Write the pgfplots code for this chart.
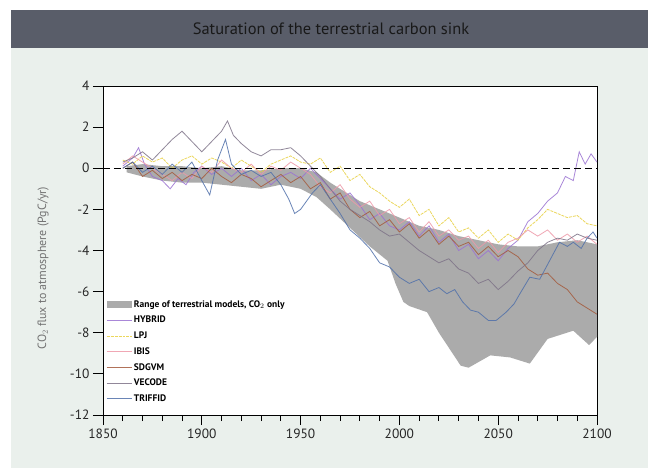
\documentclass[border=0pt]{standalone}
\usepackage{pgfplots}
\pgfplotsset{compat=1.18}
\usepackage{fontspec}
\setmainfont{PT Sans}
\definecolor{panel}{HTML}{EAF0EC}
\definecolor{titlebar}{HTML}{595D69}
\definecolor{bandgray}{HTML}{ABABAB}
\definecolor{hybrid}{HTML}{9B72D2}
\definecolor{lpj}{HTML}{E8D040}
\definecolor{ibis}{HTML}{EE98A8}
\definecolor{sdgvm}{HTML}{A45A3C}
\definecolor{vecode}{HTML}{7E7388}
\definecolor{triffid}{HTML}{5070AA}

\begin{document}
\begin{tikzpicture}
\useasboundingbox (0,0) rectangle (648bp,468bp);
\fill[white] (0,0) rectangle (648bp,468bp);
\fill[panel] (11bp,0) rectangle (648bp,420bp);
\fill[titlebar] (11bp,420bp) rectangle (648bp,458bp);
\node[text=black!90, font=\fontsize{16.5}{19}\selectfont] at (331bp,439bp) {Saturation of the terrestrial carbon sink};

\begin{axis}[
    at={(103bp,53bp)}, anchor=south west,
    width=494bp, height=329bp, scale only axis,
    xmin=1850, xmax=2100, ymin=-12, ymax=4,
    xtick={1850,1900,...,2100}, minor x tick num=4,
    ytick={-12,-10,...,4},
    tick align=outside, xtick pos=bottom, ytick pos=left,
    major tick length=10bp, minor tick length=6bp,
    tick style={black, line width=0.9pt},
    axis line style={black, line width=0.9pt},
    axis background/.style={fill=white},
    /pgf/number format/assume math mode=true,
    /pgf/number format/1000 sep={},
    ticklabel style={font=\fontsize{13.5}{16}\selectfont, text=black!85},
    ylabel={CO$_2$ flux to atmosphere (PgC/yr)},
    ylabel style={at={(axis description cs:-0.121,0.447)}, anchor=center,
        font=\fontsize{12}{14}\selectfont, text=black!55},
    legend style={at={(axis description cs:0.006,0.355)}, anchor=north west,
        draw=none, fill=none, font=\bfseries\fontsize{9.5}{11}\selectfont,
        row sep=3.5bp, inner sep=0pt},
    legend cell align=left,
    legend image code/.code={\draw[#1] (0bp,0bp) -- (25bp,0bp);},
    every axis plot/.append style={line width=0.8pt, opacity=0.85},
]

% range of terrestrial models (CO2 only): upper edge then lower edge reversed
\addplot[draw=none, fill=bandgray, opacity=1,
    legend image code/.code={\fill[bandgray] (0bp,-3.5bp) rectangle (25bp,3.5bp);}]
    coordinates {
    (1862,0.1) (1870,0.2) (1880,0.1) (1890,0.1) (1900,0.0) (1910,0.1) (1920,-0.1)
    (1930,-0.1) (1940,0.0) (1950,0.0) (1958,-0.2) (1965,-0.7) (1970,-1.0) (1980,-1.6)
    (1990,-2.0) (2000,-2.4) (2010,-2.8) (2020,-3.0) (2030,-3.3) (2040,-3.5)
    (2050,-3.7) (2060,-3.8) (2070,-3.8) (2080,-3.6) (2090,-3.5) (2100,-3.7)
    (2100,-8.2) (2096,-8.6) (2088,-7.9) (2075,-8.3) (2066,-9.5) (2056,-9.2)
    (2046,-9.1) (2035,-9.7) (2031,-9.6) (2020,-8.0) (2014,-7.0) (2005,-6.7)
    (2002,-6.5) (1998,-5.6) (1994,-4.5) (1985,-3.8) (1975,-2.9) (1965,-2.0)
    (1958,-1.4) (1950,-1.0) (1940,-0.8) (1930,-1.0) (1920,-0.9) (1910,-0.8)
    (1900,-0.7) (1890,-0.7) (1880,-0.6) (1870,-0.4) (1862,-0.2)
    } -- cycle;
\addlegendentry{Range of terrestrial models, CO$_2$ only}

% HYBRID
\addplot[hybrid] coordinates {
    (1860,0.1) (1865,0.5) (1868,1.0) (1871,0.2) (1875,-0.4) (1880,-0.6) (1884,-1.0)
    (1888,-0.5) (1892,-0.8) (1896,-0.2) (1900,0.1) (1905,-0.3) (1910,0.0) (1915,-0.4)
    (1920,0.0) (1925,-0.6) (1930,-0.3) (1935,-0.8) (1940,-0.4) (1945,-0.2) (1950,-0.5)
    (1955,0.0) (1960,-0.5) (1965,-1.0) (1970,-1.5) (1975,-1.2) (1980,-1.8) (1985,-2.5)
    (1990,-2.2) (1995,-2.8) (2000,-3.0) (2005,-2.6) (2010,-3.3) (2015,-2.8) (2020,-3.6)
    (2025,-3.2) (2030,-4.0) (2035,-3.7) (2040,-4.4) (2045,-4.0) (2050,-4.5) (2055,-3.9)
    (2060,-3.5) (2065,-2.6) (2070,-2.2) (2075,-1.6) (2080,-1.2) (2084,-0.4) (2088,-0.6)
    (2091,0.8) (2094,0.2) (2097,0.7) (2100,0.3)
    };
\addlegendentry{HYBRID}

% LPJ
\addplot[lpj, dash pattern=on 3pt off 1pt] coordinates {
    (1860,0.4) (1865,0.2) (1870,0.6) (1875,0.3) (1880,0.5) (1885,0.0) (1890,0.4)
    (1895,0.6) (1900,0.2) (1905,0.5) (1910,0.3) (1915,0.0) (1920,0.4) (1925,0.1)
    (1930,-0.2) (1935,0.2) (1940,0.4) (1945,0.6) (1950,0.3) (1955,0.2) (1960,0.5)
    (1965,-0.2) (1970,0.1) (1975,-0.6) (1980,-0.3) (1985,-0.9) (1990,-1.2) (1995,-1.6)
    (2000,-1.9) (2005,-1.5) (2010,-2.3) (2015,-2.0) (2020,-2.8) (2025,-2.4) (2030,-3.1)
    (2035,-2.9) (2040,-3.4) (2045,-3.0) (2050,-3.6) (2055,-3.2) (2060,-3.5) (2065,-2.9)
    (2070,-2.5) (2075,-2.0) (2080,-2.2) (2085,-2.4) (2090,-2.3) (2095,-2.7) (2100,-2.8)
    };
\addlegendentry{LPJ}

% IBIS
\addplot[ibis] coordinates {
    (1860,0.2) (1865,0.6) (1870,0.3) (1875,0.0) (1880,-0.3) (1885,-0.6) (1890,-0.2)
    (1895,-0.5) (1900,0.1) (1905,-0.2) (1910,0.4) (1915,0.0) (1920,-0.2) (1925,0.2)
    (1930,-0.3) (1935,0.1) (1940,-0.1) (1945,0.3) (1950,0.0) (1955,-0.3) (1960,-0.9)
    (1965,-1.2) (1970,-0.8) (1975,-1.5) (1980,-1.9) (1985,-1.6) (1990,-2.3) (1995,-2.0)
    (2000,-2.7) (2005,-2.4) (2010,-3.1) (2015,-2.6) (2020,-3.3) (2025,-3.0) (2030,-3.5)
    (2035,-3.3) (2040,-3.9) (2045,-3.5) (2050,-4.1) (2055,-3.6) (2060,-3.4) (2065,-3.0)
    (2070,-3.3) (2075,-3.0) (2080,-3.5) (2085,-3.2) (2090,-3.6) (2095,-3.3) (2100,-3.7)
    };
\addlegendentry{IBIS}

% SDGVM
\addplot[sdgvm] coordinates {
    (1860,0.0) (1865,0.3) (1870,-0.4) (1875,-0.1) (1880,-0.5) (1885,-0.2) (1890,-0.6)
    (1895,-0.3) (1900,-0.5) (1905,0.0) (1910,-0.4) (1915,-0.7) (1920,-0.3) (1925,-0.5)
    (1930,-0.9) (1935,-0.6) (1940,-0.3) (1945,-0.7) (1950,-0.4) (1955,-1.0) (1960,-0.7)
    (1965,-1.5) (1970,-1.2) (1975,-2.0) (1980,-2.4) (1985,-2.1) (1990,-2.8) (1995,-2.5)
    (2000,-3.1) (2005,-2.7) (2010,-3.4) (2015,-3.0) (2020,-3.7) (2025,-3.3) (2030,-3.8)
    (2035,-3.6) (2040,-4.2) (2045,-3.8) (2050,-4.3) (2055,-4.0) (2060,-4.3) (2065,-4.9)
    (2070,-5.2) (2075,-5.1) (2080,-5.6) (2085,-5.9) (2090,-6.5) (2095,-6.8) (2100,-7.1)
    };
\addlegendentry{SDGVM}

% VECODE
\addplot[vecode] coordinates {
    (1860,0.3) (1865,0.5) (1870,0.8) (1875,0.4) (1880,0.9) (1885,1.4) (1890,1.8)
    (1895,1.3) (1900,0.8) (1905,1.3) (1910,1.8) (1913,2.3) (1916,1.6) (1920,1.2)
    (1925,0.8) (1930,0.6) (1935,0.9) (1940,0.9) (1945,1.0) (1950,0.6) (1955,0.1)
    (1960,-0.4) (1965,-1.0) (1970,-1.6) (1975,-2.0) (1980,-2.3) (1985,-2.6) (1990,-3.0)
    (1995,-3.3) (2000,-3.2) (2005,-3.6) (2010,-4.0) (2015,-4.3) (2020,-4.6) (2025,-4.4)
    (2030,-4.9) (2035,-5.1) (2040,-5.6) (2045,-5.4) (2050,-5.9) (2055,-5.5) (2060,-5.0)
    (2065,-4.6) (2070,-4.0) (2075,-3.6) (2080,-3.4) (2085,-3.5) (2090,-3.2) (2095,-3.4)
    (2100,-3.5)
    };
\addlegendentry{VECODE}

% TRIFFID
\addplot[triffid] coordinates {
    (1860,0.0) (1865,0.3) (1870,-0.2) (1875,0.1) (1880,-0.3) (1885,0.2) (1890,-0.2)
    (1895,0.3) (1900,-0.6) (1904,-1.3) (1908,0.4) (1912,1.4) (1915,0.2) (1920,-0.3)
    (1925,-0.1) (1930,-0.4) (1935,-0.2) (1940,-0.8) (1944,-1.5) (1947,-2.2) (1950,-2.0)
    (1953,-1.6) (1956,-1.2) (1960,-0.8) (1965,-1.5) (1970,-2.2) (1975,-3.0) (1980,-3.4)
    (1985,-3.9) (1990,-4.6) (1995,-4.8) (2000,-5.3) (2005,-5.6) (2010,-5.4) (2015,-6.0)
    (2020,-5.8) (2024,-6.1) (2028,-5.9) (2032,-6.5) (2036,-6.9) (2040,-7.0) (2045,-7.4)
    (2049,-7.4) (2054,-7.0) (2058,-6.6) (2061,-6.1) (2066,-5.3) (2071,-5.4) (2076,-4.5)
    (2081,-3.6) (2085,-3.8) (2088,-3.6) (2092,-3.9) (2095,-3.4) (2098,-3.1) (2100,-3.4)
    };
\addlegendentry{TRIFFID}

% zero line
\addplot[black, line width=1.3pt, opacity=1, dash pattern=on 7pt off 4pt, forget plot]
    coordinates {(1850,0) (2100,0)};
\end{axis}
\end{tikzpicture}
\end{document}
